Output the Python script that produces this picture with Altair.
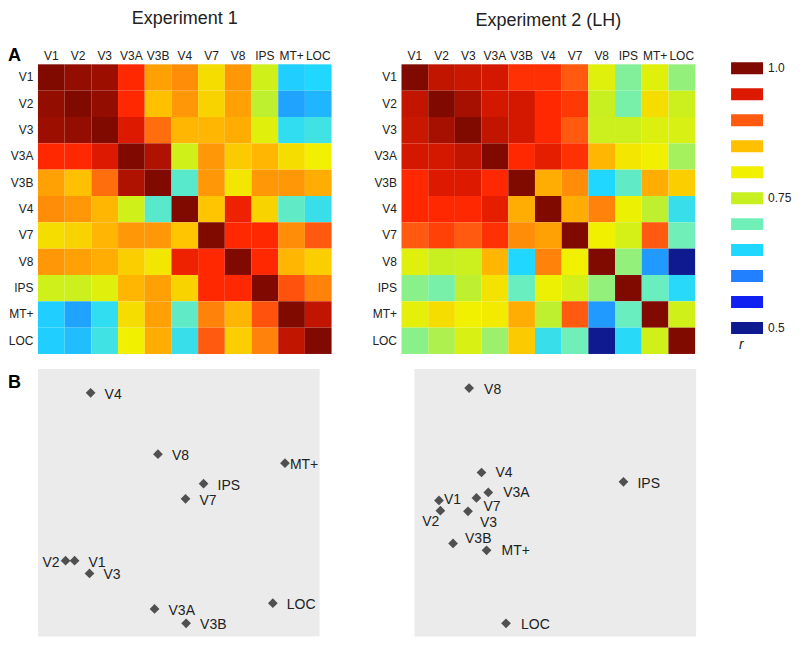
import altair as alt
import pandas as pd

FONT = "Liberation Sans"

regions = ["V1", "V2", "V3", "V3A", "V3B", "V4", "V7", "V8", "IPS", "MT+", "LOC"]

# correlation matrices (rows top->bottom, columns left->right)
exp1_r = [
    [1.00, 0.99, 0.985, 0.93, 0.865, 0.875, 0.82, 0.87, 0.76, 0.645, 0.65],
    [0.99, 1.00, 0.99, 0.93, 0.85, 0.87, 0.83, 0.865, 0.745, 0.62, 0.63],
    [0.985, 0.99, 1.00, 0.95, 0.89, 0.855, 0.855, 0.86, 0.78, 0.66, 0.67],
    [0.93, 0.93, 0.95, 1.00, 0.975, 0.76, 0.87, 0.84, 0.855, 0.82, 0.80],
    [0.865, 0.85, 0.89, 0.975, 1.00, 0.685, 0.87, 0.81, 0.87, 0.87, 0.86],
    [0.875, 0.87, 0.855, 0.76, 0.685, 1.00, 0.845, 0.94, 0.83, 0.69, 0.665],
    [0.82, 0.83, 0.855, 0.87, 0.87, 0.845, 1.00, 0.93, 0.93, 0.875, 0.90],
    [0.87, 0.865, 0.86, 0.835, 0.81, 0.94, 0.93, 1.00, 0.93, 0.855, 0.835],
    [0.76, 0.755, 0.78, 0.855, 0.865, 0.83, 0.93, 0.93, 1.00, 0.905, 0.88],
    [0.645, 0.62, 0.66, 0.82, 0.865, 0.69, 0.88, 0.855, 0.905, 1.00, 0.965],
    [0.645, 0.635, 0.67, 0.80, 0.86, 0.665, 0.90, 0.835, 0.88, 0.965, 1.00],
]

exp2_r = [
    [1.00, 0.965, 0.96, 0.955, 0.925, 0.925, 0.90, 0.78, 0.71, 0.78, 0.72],
    [0.965, 1.00, 0.98, 0.955, 0.955, 0.93, 0.92, 0.75, 0.705, 0.82, 0.755],
    [0.96, 0.98, 1.00, 0.965, 0.955, 0.93, 0.90, 0.755, 0.755, 0.775, 0.77],
    [0.955, 0.955, 0.965, 1.00, 0.93, 0.945, 0.925, 0.855, 0.81, 0.80, 0.73],
    [0.93, 0.95, 0.95, 0.93, 1.00, 0.86, 0.875, 0.65, 0.69, 0.86, 0.835],
    [0.93, 0.93, 0.93, 0.945, 0.86, 1.00, 0.86, 0.88, 0.795, 0.745, 0.665],
    [0.90, 0.915, 0.90, 0.925, 0.875, 0.865, 1.00, 0.80, 0.765, 0.90, 0.70],
    [0.78, 0.75, 0.755, 0.855, 0.65, 0.88, 0.80, 1.00, 0.72, 0.615, 0.50],
    [0.715, 0.705, 0.745, 0.815, 0.695, 0.795, 0.765, 0.72, 1.00, 0.695, 0.655],
    [0.785, 0.82, 0.80, 0.805, 0.86, 0.745, 0.90, 0.615, 0.695, 1.00, 0.76],
    [0.715, 0.735, 0.77, 0.725, 0.84, 0.665, 0.70, 0.50, 0.655, 0.76, 1.00],
]

# colour key (r labels and colours, top to bottom of the key)
key_labels = ["1.0", "0.95", "0.9", "0.85", "0.8", "0.75", "0.7", "0.65", "0.6", "0.55", "0.5"]
key_colors = ["#800a00", "#dd1a00", "#ff5a10", "#ffc000", "#f0f000", "#c8f020",
              "#70f0b8", "#20d8ff", "#2080ff", "#1020f0", "#101a90"]

# continuous colour map stops used for the cells (jet-like)
cmap_stops = [0.50, 0.55, 0.60, 0.65, 0.70, 0.75, 0.80, 0.85, 0.90, 0.93, 0.95, 1.00]
cmap_colors = ["#101a90", "#1020f0", "#2080ff", "#20d8ff", "#70f0b8", "#c8f020",
               "#f0f000", "#ffc000", "#ff5a10", "#ff2800", "#dd1a00", "#800a00"]

# MDS coordinates (arbitrary units)
mds1_x = [13.0, 9.8, 18.3, 41.4, 52.6, 18.7, 52.4, 42.6, 58.8, 87.7, 83.4]
mds1_y = [28.1, 28.1, 23.3, 9.9, 4.5, 91.3, 51.4, 68.2, 57.1, 64.8, 12.1]
mds2_x = [8.7, 9.2, 19.0, 26.2, 13.7, 23.8, 22.0, 19.4, 74.2, 25.6, 32.5]
mds2_y = [50.8, 46.9, 46.7, 53.8, 34.6, 61.3, 51.7, 93.1, 57.8, 32.0, 4.5]

# label placement (style): name -> (dx, dy, align)
lab1 = {n: (14, 2, "left") for n in regions}
lab1["MT+"] = (5, 2, "left")
lab1["V2"] = (-6, 2, "right")
lab2 = {
    "V1": (5, 0, "left"), "V2": (-1, 11, "right"), "V3": (12, 12, "left"),
    "V3A": (15, 1, "left"), "V3B": (12, -4, "left"), "V4": (14, 1, "left"),
    "V7": (7, 9, "left"), "V8": (15, 2, "left"), "IPS": (14, 2, "left"),
    "MT+": (15, 1, "left"), "LOC": (15, 2, "left"),
}

HM_W, HM_H = 294, 290
MDS_W, MDS_H = 282, 268
TXT = "#222222"


def heat_long(mat):
    recs = []
    for i, rn in enumerate(regions):
        for j, cn in enumerate(regions):
            recs.append({"row": rn, "col": cn, "r": mat[i][j]})
    return pd.DataFrame(recs)


color_scale = alt.Scale(domain=cmap_stops, range=cmap_colors, interpolate="rgb")


def heat_rect(mat):
    return alt.Chart(heat_long(mat)).mark_rect().encode(
        x=alt.X("col:N", sort=regions,
                axis=alt.Axis(orient="top", labelAngle=0, ticks=False, tickSize=0, domain=False,
                              title=None, labelPadding=2, labelFontSize=12, labelFont=FONT,
                              labelColor=TXT)),
        y=alt.Y("row:N", sort=regions,
                axis=alt.Axis(ticks=False, tickSize=0, domain=False, title=None, labelPadding=5,
                              labelFontSize=12, labelFont=FONT, labelColor=TXT)),
        color=alt.Color("r:Q", scale=color_scale, legend=None),
    )


def letter(ch, x, y):
    return alt.Chart(pd.DataFrame({"t": [ch]})).mark_text(
        align="left", baseline="alphabetic", fontSize=18, fontWeight="bold", font=FONT, color="#000"
    ).encode(x=alt.value(x), y=alt.value(y), text="t:N")


def title(t):
    return alt.TitleParams(t, fontSize=18, fontWeight="normal", font=FONT, color=TXT,
                           anchor="middle", frame="group", offset=19)


h1 = alt.layer(heat_rect(exp1_r), letter("A", -30, -3)).properties(
    width=HM_W, height=HM_H, title=title("Experiment 1"))

key = alt.Chart(pd.DataFrame({"lv": key_labels})).mark_square(opacity=0).encode(
    x=alt.value(0), y=alt.value(0),
    color=alt.Color("lv:N", sort=None,
                    scale=alt.Scale(domain=key_labels, range=key_colors),
                    legend=alt.Legend(
                        orient="none", legendX=HM_W + 44, legendY=-4,
                        title="r", titleOrient="bottom", titleAnchor="start",
                        titleFontStyle="italic", titleFontWeight="normal", titleFont=FONT,
                        titleFontSize=14, titleColor=TXT, titlePadding=4,
                        symbolType="M-2,-0.75H2V0.75H-2Z", symbolSize=256, symbolOpacity=1,
                        symbolStrokeWidth=0, labelOffset=13, labelFontSize=12, labelFont=FONT,
                        labelColor=TXT, rowPadding=12, padding=0,
                        labelExpr="indexof(['1.0','0.75','0.5'], datum.label) >= 0 ? datum.label : ''",
                    )),
)

h2 = alt.layer(heat_rect(exp2_r), key).resolve_scale(color="independent").properties(
    width=HM_W, height=HM_H, title=title("Experiment 2 (LH)"))


def mds(xs, ys, labs, extra=None):
    df = pd.DataFrame({"name": regions, "x": xs, "y": ys})
    xsc = alt.Scale(domain=[0, 100], nice=False, zero=False)
    ysc = alt.Scale(domain=[-0.5, 100.3], nice=False, zero=False)
    enc = dict(x=alt.X("x:Q", scale=xsc, axis=None), y=alt.Y("y:Q", scale=ysc, axis=None))
    layers = [alt.Chart(df).mark_point(shape="diamond", filled=True, size=95, color="#505050",
                                       opacity=1).encode(**enc)]
    groups = {}
    for n in regions:
        groups.setdefault(labs[n], []).append(n)
    for (dx, dy, al), names in groups.items():
        layers.append(
            alt.Chart(df).transform_filter(alt.FieldOneOfPredicate(field="name", oneOf=names))
            .mark_text(dx=dx, dy=dy, align=al, baseline="middle", fontSize=14, font=FONT, color=TXT)
            .encode(text="name:N", **enc)
        )
    if extra is not None:
        layers.append(extra)
    return alt.layer(*layers).properties(
        width=MDS_W, height=MDS_H, view=alt.ViewBackground(fill="#ebebeb", stroke=None))


m1 = mds(mds1_x, mds1_y, lab1, letter("B", -30, 19))
m2 = mds(mds2_x, mds2_y, lab2)

top = alt.hconcat(h1, h2, spacing=40)
bottom = alt.hconcat(m1, m2, spacing=95)
chart = alt.vconcat(top, bottom, spacing=15).properties(
    padding={"top": 2, "left": 0, "right": 0, "bottom": 0}).configure_view(stroke=None)

chart.save("out.html", embed_options={"renderer": "svg", "actions": False})
